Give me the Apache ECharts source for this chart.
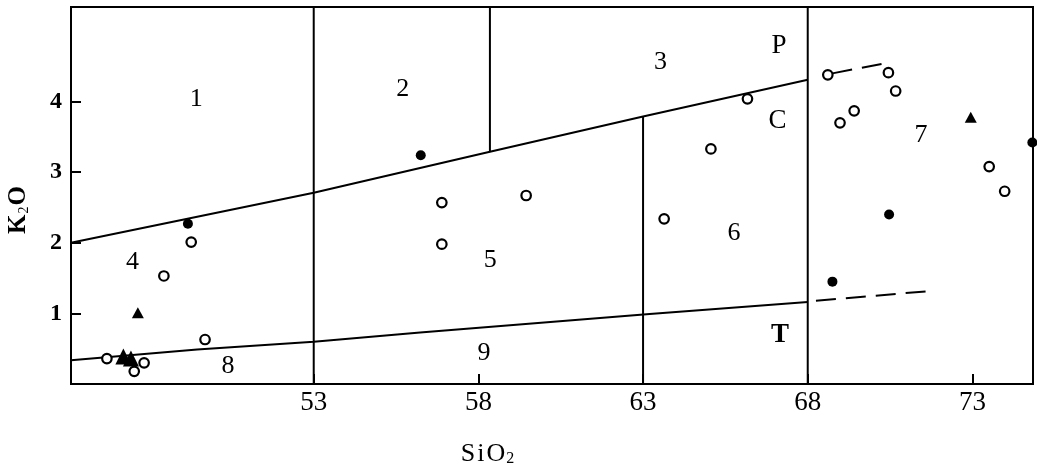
<!DOCTYPE html>
<html><head><meta charset="utf-8">
<script src="https://cdn.jsdelivr.net/npm/echarts@6/dist/echarts.min.js"></script>
<style>html,body{margin:0;padding:0;background:#fff}#c{width:1037px;height:466px}</style>
</head><body><div id="c"></div>
<script>
// ---- axis extents & ticks ----
const xMin = 45.63, xMax = 74.84, yMin = 0, yMax = 5.34;
const xTicks = [53, 58, 63, 68, 73];
const yTicks = [1, 2, 3, 4];

// ---- boundary lines (SiO2, K2O) ----
const upperBoundary = [[45.63, 2.0], [53, 2.71], [58.35, 3.29], [63, 3.79], [68, 4.31]];
const lowerBoundary = [[45.63, 0.335], [49.46, 0.49], [53, 0.60], [56.23, 0.73], [63.2, 0.99], [68, 1.16]];
const upperDashed = [[68.75, 4.40], [70.53, 4.56]];
const lowerDashed = [[68.25, 1.18], [71.8, 1.32]];
const divider53 = [[53, 0], [53, 5.34]];
const divider58 = [[58.35, 3.29], [58.35, 5.34]];
const divider63 = [[63, 0], [63, 3.79]];
const divider68 = [[68, 0], [68, 5.34]];

// ---- samples ----
const openCircles = [[49.28, 2.01], [48.45, 1.53], [49.70, 0.63], [46.72, 0.36], [47.85, 0.30], [47.55, 0.18],
  [56.89, 2.57], [59.45, 2.67], [56.89, 1.98], [66.17, 4.04], [65.06, 3.33], [63.64, 2.34],
  [68.61, 4.38], [70.45, 4.41], [70.67, 4.15], [69.41, 3.87], [68.98, 3.70], [73.51, 3.08], [73.98, 2.73]];
const filledCircles = [[49.18, 2.27], [56.25, 3.24], [70.47, 2.40], [68.75, 1.45], [74.82, 3.42]];
const triangles = [[47.66, 1.01], [72.95, 3.78]];
const bigTriangles = [[47.22, 0.39], [47.45, 0.36]];

// ---- field labels ----
const regionText = ['1', '2', '3', 'P', 'C', '7', '4', '5', '6', '8', '9', 'T'];
const regionX = [49.43, 55.70, 63.53, 67.13, 67.08, 71.44, 47.50, 58.36, 65.76, 50.40, 58.17, 67.16];
const regionY = [4.03, 4.17, 4.56, 4.79, 3.72, 3.52, 1.72, 1.75, 2.13, 0.25, 0.43, 0.70];

const serif = 'Liberation Serif';
function lineSeries(data, dashed) {
  return {
    type: 'line', data: data, symbol: 'none', silent: true, animation: false,
    lineStyle: { color: '#000', width: 2, type: dashed ? [20, 10] : 'solid' }, z: 2
  };
}

const chart = echarts.init(document.getElementById('c'), null, { renderer: 'canvas' });
chart.setOption({
  animation: false,
  backgroundColor: '#fff',
  grid: { left: 71, right: 4, top: 7, bottom: 82, show: true, borderColor: '#000', borderWidth: 2,
          containLabel: false, outerBoundsMode: 'none' },
  xAxis: {
    type: 'value', min: xMin, max: xMax,
    axisLine: { show: true, lineStyle: { color: '#000', width: 2 } },
    axisTick: { show: true, inside: true, length: 10, customValues: xTicks, lineStyle: { color: '#000', width: 2 } },
    axisLabel: { customValues: xTicks, color: '#000', fontFamily: serif, fontSize: 27, margin: 5 },
    splitLine: { show: false },
    name: '{m|S}{m|i}{m|O}{s|2}', nameLocation: 'middle', nameGap: 57,
    nameTextStyle: {
      padding: [0, 130, 0, 0],
      rich: {
        m: { fontFamily: serif, fontSize: 26, color: '#000', padding: [0, 1, 0, 1], lineHeight: 26, verticalAlign: 'top' },
        s: { fontFamily: serif, fontSize: 16, color: '#000', lineHeight: 16, padding: [10, 0, 0, 0], verticalAlign: 'bottom' }
      }
    }
  },
  yAxis: {
    type: 'value', min: yMin, max: yMax,
    axisLine: { show: true, lineStyle: { color: '#000', width: 2 } },
    axisTick: { show: true, inside: true, length: 10, customValues: yTicks, lineStyle: { color: '#000', width: 2 } },
    axisLabel: { customValues: yTicks, color: '#000', fontFamily: serif, fontWeight: 'bold', fontSize: 24, margin: 9 },
    splitLine: { show: false },
    name: '{m|K}{s|2}{m|O}', nameLocation: 'middle', nameRotate: 90, nameGap: 40,
    nameTextStyle: {
      padding: [0, 29, 0, 0],
      rich: {
        m: { fontFamily: serif, fontWeight: 'bold', fontSize: 25, color: '#000', lineHeight: 25, verticalAlign: 'top' },
        s: { fontFamily: serif, fontSize: 14, color: '#000', lineHeight: 14, padding: [6, 1, 0, 1], verticalAlign: 'bottom' }
      }
    }
  },
  series: [
    lineSeries(upperBoundary, false),
    lineSeries(lowerBoundary, false),
    lineSeries(divider53, false),
    lineSeries(divider58, false),
    lineSeries(divider63, false),
    lineSeries(divider68, false),
    lineSeries(upperDashed, true),
    lineSeries(lowerDashed, true),
    {
      type: 'scatter', data: regionText.map((t, i) => ({ value: [regionX[i], regionY[i]], name: t,
        label: { color: '#000', fontWeight: t === 'T' ? 'bold' : 'normal', fontSize: /[A-Z]/.test(t) ? 27 : 26 } })),
      symbolSize: 0, itemStyle: { color: '#000', opacity: 1 }, silent: true, z: 3,
      label: { show: true, position: 'inside', formatter: p => p.name, color: '#000', opacity: 1,
               textBorderWidth: 0, fontFamily: serif, fontSize: 26 }
    },
    {
      type: 'scatter', data: openCircles, symbol: 'circle', symbolSize: 9.5, clip: false, z: 5,
      itemStyle: { color: '#fff', borderColor: '#000', borderWidth: 2.2, opacity: 1 }
    },
    {
      type: 'scatter', data: filledCircles, symbol: 'circle', symbolSize: 10, clip: false, z: 5,
      itemStyle: { color: '#000', opacity: 1 }
    },
    {
      type: 'scatter', data: triangles, symbol: 'triangle', symbolSize: [12, 11], clip: false, z: 5,
      itemStyle: { color: '#000', opacity: 1 }
    },
    {
      type: 'scatter', data: bigTriangles, symbol: 'triangle', symbolSize: [16, 16], clip: false, z: 5,
      itemStyle: { color: '#000', opacity: 1 }
    }
  ]
});
</script>
</body></html>
